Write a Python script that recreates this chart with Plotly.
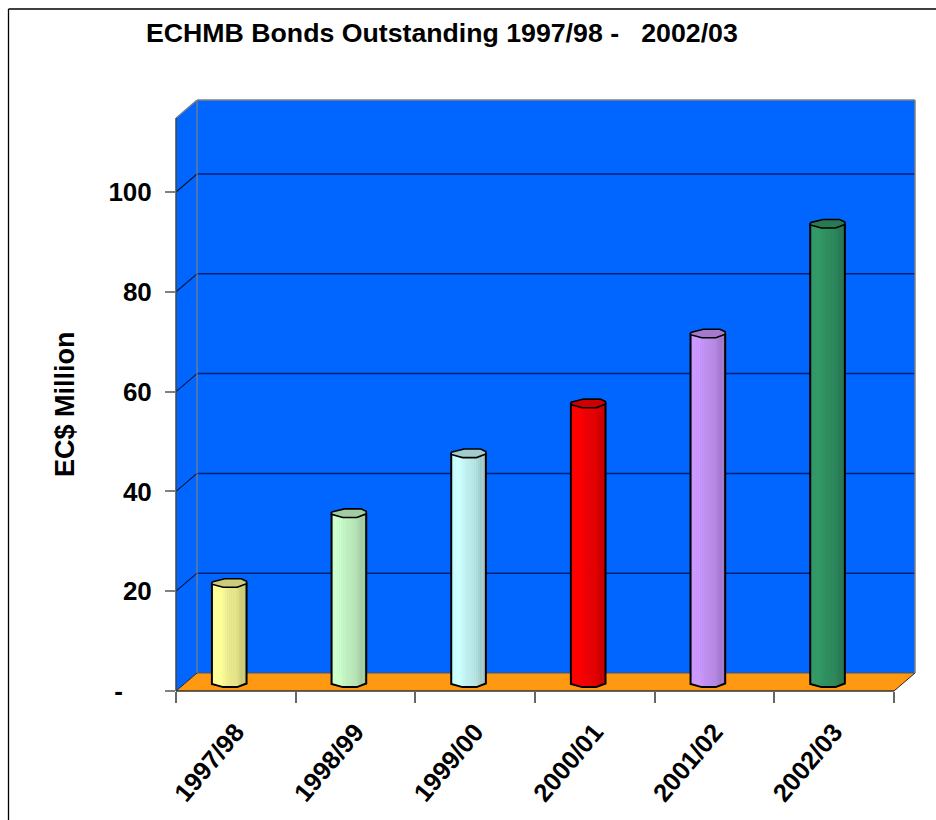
import plotly.graph_objects as go

categories = ["1997/98", "1998/99", "1999/00", "2000/01", "2001/02", "2002/03"]
values = [20, 34, 46, 56, 70, 92]
base_colors = ["#FFFF99", "#CCFFCC", "#CCFFFF", "#FF0000", "#CC99FF", "#339966"]
y_ticks = [0, 20, 40, 60, 80, 100]
y_labels = ["-\u00a0\u00a0\u00a0\u00a0", "20", "40", "60", "80", "100"]
title_text = "ECHMB Bonds Outstanding 1997/98 -\u00a0\u00a0\u00a02002/03"
y_title = "EC$ Million"

# layout geometry (pixels)
W, H = 936, 820
L, R, T, B = 176, 915, 100, 691
PX_X = 119.5          # pixels per category
PX_Y = 4.99           # pixels per value unit
DX = 21 / PX_X        # chart-depth offset in x units
DY = 18 / PX_Y        # chart-depth offset in y units
X0, X1 = -0.5, 5.5
X_TOP = X1 + DX
Y_TOP = (B - T) / PX_Y
BAR_SHIFT = -6.6 / PX_X    # cylinders sit slightly left of category centre
BAR_LIFT = 1.7             # cylinder floor height in value units

# cylinder cross-section in pixels relative to its centre
cap_pts = [(-17.3, -0.8), (-4.5, -4.0), (12, -4.0), (17.3, -1.5),
           (17.3, 1.0), (8, 4.6), (-6, 4.6), (-17.3, 1.5)]
front_pts = [(-17.3, 1.5), (-6, 4.6), (8, 4.6), (17.3, 1.0)]
N_STRIPS = 18
shade = [0.98, 1, 1, 1, 1, 0.98, 0.96, 0.94, 0.93, 0.92, 0.91, 0.90,
         0.89, 0.87, 0.83, 0.80, 0.82, 0.78]
CAP_SHADE = 0.8


def darken(col, f):
    r, g, b = int(col[1:3], 16), int(col[3:5], 16), int(col[5:7], 16)
    return f"rgb({r * f:.0f},{g * f:.0f},{b * f:.0f})"


def front_drop(px):
    for (a, da), (b, db) in zip(front_pts, front_pts[1:]):
        if a <= px <= b:
            return da + (db - da) * (px - a) / (b - a)
    return front_pts[-1][1]


def xu(px):
    return px / PX_X


def yu(px):
    return -px / PX_Y


fig = go.Figure()

# cylinder bodies as vertical strips
idx = list(range(len(categories)))
strip_w = 2 * 17.3 / N_STRIPS
for s in range(N_STRIPS):
    left = -17.3 + s * strip_w
    mid = left + strip_w / 2
    bases = [BAR_LIFT + yu(front_drop(mid)) for _ in values]
    tops = [v + BAR_LIFT for v in values]
    fig.add_trace(go.Bar(
        x=idx, y=[t - b for t, b in zip(tops, bases)], base=bases,
        width=xu(strip_w + (0.6 if s < N_STRIPS - 1 else 0)),
        offset=BAR_SHIFT + xu(left),
        marker=dict(color=[darken(c, shade[s]) for c in base_colors], line=dict(width=0)),
        hoverinfo="skip", showlegend=False))

# cylinder outlines and caps
for i, (v, c) in enumerate(zip(values, base_colors)):
    cx = i + BAR_SHIFT
    top = v + BAR_LIFT
    ox = [cx + xu(-17.3), cx + xu(-17.3)] + [cx + xu(p[0]) for p in front_pts[1:]] + [cx + xu(17.3)]
    oy = [top, BAR_LIFT + yu(1.5)] + [BAR_LIFT + yu(p[1]) for p in front_pts[1:]] + [top]
    fig.add_trace(go.Scatter(x=ox, y=oy, mode="lines",
                             line=dict(color="#000000", width=2), hoverinfo="skip", showlegend=False))
    capx = [cx + xu(p[0]) for p in cap_pts] + [cx + xu(cap_pts[0][0])]
    capy = [top + yu(p[1]) for p in cap_pts] + [top + yu(cap_pts[0][1])]
    fig.add_trace(go.Scatter(x=capx, y=capy, mode="lines", fill="toself",
                             fillcolor=darken(c, CAP_SHADE),
                             line=dict(color="#000000", width=1.6), hoverinfo="skip", showlegend=False))

BLUE = "#0066FF"
ORANGE = "#FF9912"
GREY = "#808080"
shapes = [
    # back wall
    dict(type="rect", xref="x", yref="y", x0=X0 + DX, x1=X_TOP, y0=DY, y1=Y_TOP,
         fillcolor=BLUE, line=dict(width=0), layer="below"),
    # side wall
    dict(type="path", xref="x", yref="y",
         path=f"M {X0} 0 L {X0 + DX} {DY} L {X0 + DX} {Y_TOP} L {X0} {Y_TOP - DY} Z",
         fillcolor=BLUE, line=dict(width=0), layer="below"),
    # floor
    dict(type="path", xref="x", yref="y",
         path=f"M {X0} 0 L {X1} 0 L {X_TOP} {DY} L {X0 + DX} {DY} Z",
         fillcolor=ORANGE, line=dict(width=0), layer="below"),
]
# gridlines wrap from the front axis, across the side wall, along the back wall
for v in y_ticks[1:]:
    shapes.append(dict(type="line", xref="x", yref="y", x0=X0, x1=X0 + DX, y0=v, y1=v + DY,
                       line=dict(color="#00112e", width=1.1), layer="below"))
    shapes.append(dict(type="line", xref="x", yref="y", x0=X0 + DX, x1=X_TOP, y0=v + DY, y1=v + DY,
                       line=dict(color="#002070", width=1.5), layer="below"))
shapes += [
    # wall edges
    dict(type="line", xref="x", yref="y", x0=X0 + DX, x1=X0 + DX, y0=DY, y1=Y_TOP, line=dict(color=GREY, width=1.2), layer="below"),
    dict(type="line", xref="x", yref="paper", x0=X0 + DX, x1=X_TOP, y0=1, y1=1, line=dict(color=GREY, width=1.5)),
    dict(type="line", xref="paper", yref="y", x0=1, x1=1, y0=DY, y1=Y_TOP, line=dict(color=GREY, width=1.5)),
    dict(type="line", xref="x", yref="y", x0=X0 + DX, x1=X_TOP, y0=DY, y1=DY, line=dict(color="#555555", width=1.2), layer="below"),
    dict(type="line", xref="x", yref="y", x0=X0, x1=X0 + DX, y0=Y_TOP - DY, y1=Y_TOP, line=dict(color=GREY, width=1.3), layer="below"),
    # front axis lines
    dict(type="line", xref="paper", yref="y", x0=0, x1=0, y0=0, y1=Y_TOP - DY, line=dict(color="#444444", width=1.5)),
    dict(type="line", xref="x", yref="paper", x0=X0, x1=X1, y0=0, y1=0, line=dict(color="#333333", width=1.5)),
    dict(type="line", xref="x", yref="y", x0=X0, x1=X0 + DX, y0=0, y1=DY, line=dict(color="#222222", width=1), layer="below"),
    dict(type="line", xref="x", yref="y", x0=X1, x1=X_TOP, y0=0, y1=DY, line=dict(color="#222222", width=1), layer="below"),
]

# outer frame, open at the window edges
PW, PH = R - L, B - T
fx = lambda px: (px - L) / PW
fy = lambda py: (B - py) / PH
shapes += [
    dict(type="line", xref="paper", yref="paper", x0=fx(8.5), x1=fx(8.5), y0=fy(9), y1=fy(820),
         line=dict(color="#000000", width=1.3)),
    dict(type="line", xref="paper", yref="paper", x0=fx(8.5), x1=fx(936), y0=fy(9), y1=fy(9),
         line=dict(color="#000000", width=1.3)),
]

FONT = "Liberation Sans, Arial, sans-serif"
fig.update_layout(
    width=W, height=H, autosize=False,
    margin=dict(l=L, r=W - R, t=T, b=H - B, pad=0),
    paper_bgcolor="#FFFFFF", plot_bgcolor="#FFFFFF",
    barmode="overlay", showlegend=False, shapes=shapes,
    title=dict(text=title_text, xref="container", yref="container", x=146 / W, xanchor="left",
               y=1 - 33 / H, yanchor="middle",
               font=dict(family=FONT, size=26.7, color="#000000", weight="bold")),
    xaxis=dict(range=[X0, X_TOP], tickmode="array", tickvals=idx, ticktext=categories,
               showgrid=False, zeroline=False, showline=False, ticks="",
               ticklabelstandoff=20, tickangle=-50,
               tickfont=dict(family=FONT, size=25.5, color="#000000", weight="bold"),
               minor=dict(tickmode="array", tickvals=[X0 + k for k in range(7)], ticks="outside",
                          ticklen=11, tickwidth=1.5, tickcolor="#666666", showgrid=False)),
    yaxis=dict(range=[0, Y_TOP], tickmode="array", tickvals=y_ticks, ticktext=y_labels,
               showgrid=False, zeroline=False, showline=False, ticks="outside", ticklen=10,
               tickwidth=1.5, tickcolor="#808080", ticklabelstandoff=8,
               tickfont=dict(family=FONT, size=26, color="#000000", weight="bold")),
    annotations=[dict(text=y_title, xref="paper", yref="paper", x=fx(65), y=fy(404), showarrow=False,
                      textangle=-90, xanchor="center", yanchor="middle",
                      font=dict(family=FONT, size=27, color="#000000", weight="bold"))],
)

fig.write_html("out.html", config=dict(displayModeBar=False),
               post_script="document.body.style.margin='0';document.body.style.overflow='hidden';")
